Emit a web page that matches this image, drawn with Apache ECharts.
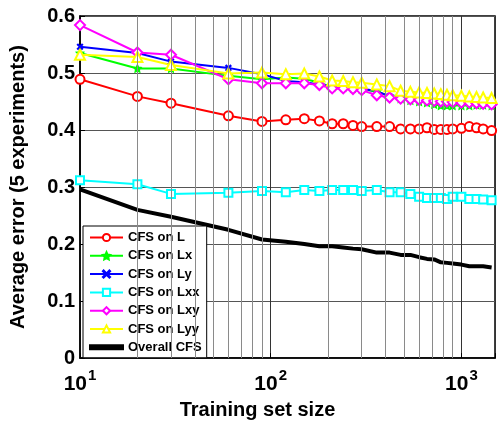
<!DOCTYPE html>
<html>
<head>
<meta charset="utf-8">
<script src="https://cdn.jsdelivr.net/npm/echarts@6/dist/echarts.min.js"></script>
<style>
  html, body { margin: 0; padding: 0; background: #fff; }
  #chart { width: 498px; height: 425px; }
</style>
</head>
<body>
<div id="chart"></div>
<script>
// training set sizes (x, log scale)
const sizes = [10, 20, 30, 60, 90, 120, 150, 180, 210, 240, 270, 300, 360, 420, 480, 540, 600, 660, 720, 780, 840, 900, 1000, 1100, 1200, 1300, 1440]

const errL   = [0.489, 0.459, 0.447, 0.425, 0.415, 0.418, 0.420, 0.416, 0.411, 0.411, 0.408, 0.406, 0.406, 0.406, 0.402, 0.402, 0.402, 0.404, 0.401, 0.401, 0.401, 0.402, 0.403, 0.406, 0.404, 0.402, 0.399]
const errLx  = [0.535, 0.508, 0.508, 0.495, 0.489, 0.492, 0.490, 0.483, 0.475, 0.475, 0.473, 0.472, 0.467, 0.460, 0.455, 0.452, 0.450, 0.448, 0.445, 0.443, 0.443, 0.443, 0.443, 0.443, 0.444, 0.444, 0.443]
const errLy  = [0.546, 0.535, 0.520, 0.509, 0.498, 0.486, 0.484, 0.480, 0.477, 0.477, 0.475, 0.473, 0.468, 0.459, 0.459, 0.454, 0.453, 0.452, 0.451, 0.450, 0.449, 0.449, 0.448, 0.448, 0.447, 0.447, 0.446]
const errLxx = [0.312, 0.305, 0.288, 0.290, 0.293, 0.291, 0.295, 0.293, 0.295, 0.295, 0.295, 0.293, 0.295, 0.291, 0.291, 0.288, 0.283, 0.281, 0.281, 0.281, 0.279, 0.283, 0.283, 0.279, 0.279, 0.278, 0.277]
const errLxy = [0.584, 0.536, 0.532, 0.489, 0.482, 0.482, 0.482, 0.479, 0.473, 0.473, 0.472, 0.470, 0.461, 0.457, 0.455, 0.454, 0.453, 0.452, 0.451, 0.450, 0.450, 0.449, 0.448, 0.448, 0.447, 0.446, 0.445]
const errLyy = [0.532, 0.528, 0.514, 0.499, 0.501, 0.498, 0.499, 0.494, 0.487, 0.486, 0.484, 0.483, 0.480, 0.477, 0.469, 0.467, 0.466, 0.465, 0.464, 0.463, 0.462, 0.461, 0.460, 0.459, 0.458, 0.457, 0.456]
const errAll = [0.296, 0.260, 0.248, 0.225, 0.208, 0.204, 0.200, 0.196, 0.196, 0.194, 0.192, 0.191, 0.185, 0.185, 0.181, 0.181, 0.177, 0.174, 0.173, 0.168, 0.167, 0.166, 0.164, 0.161, 0.161, 0.161, 0.159]

// minor grid positions of the log axis
const minorX = [20, 30, 40, 50, 60, 70, 80, 90, 200, 300, 400, 500, 600, 700, 800, 900]

const legendNames = ['CFS on L', 'CFS on Lx', 'CFS on Ly', 'CFS on Lxx', 'CFS on Lxy', 'CFS on Lyy', 'Overall CFS']

const FONT = 'Liberation Sans, Arial, sans-serif'

function pairs(ys) {
  return sizes.map((x, i) => [x, ys[i]])
}

// marker paths
const starPath = 'path://M0,-10L2.9,-4L9.5,-3.1L4.7,1.5L5.9,8.1L0,5L-5.9,8.1L-4.7,1.5L-9.5,-3.1L-2.9,-4Z'
const crossPath = 'path://M-5,-4L-4,-5L0,-1L4,-5L5,-4L1,0L5,4L4,5L0,1L-4,5L-5,4L-1,0Z'

function lineSeries(name, ys, color, symbol, size, width) {
  return {
    name: name,
    type: 'line',
    data: pairs(ys),
    symbol: symbol,
    symbolSize: size,
    showSymbol: symbol !== 'none',
    color: color,
    lineStyle: { color: color, width: width || 2 },
    itemStyle: { color: color, borderColor: color, borderWidth: 1.5 },
    animation: false,
    z: 3
  }
}

const chart = echarts.init(document.getElementById('chart'))

const options = {
  animation: false,
  grid: {
    left: 78,
    right: 1,
    top: 16,
    bottom: 63,
    show: true,
    borderColor: '#000',
    borderWidth: 1.5,
    backgroundColor: 'transparent'
  },
  legend: {
    orient: 'vertical',
    left: 83,
    top: 226,
    itemWidth: 33,
    itemHeight: 9,
    itemGap: 5.3,
    padding: [5, 5, 4, 6],
    borderColor: '#000',
    borderWidth: 1,
    backgroundColor: '#fff',
    textStyle: { fontFamily: FONT, fontWeight: 'bold', fontSize: 13, color: '#000' },
    data: legendNames.map(n => n === 'Overall CFS'
      ? { name: n, icon: 'path://M0,0H33V4H0Z', itemStyle: { color: '#000' } }
      : n)
  },
  xAxis: {
    type: 'log',
    logBase: 10,
    min: 10,
    max: 1500,
    name: 'Training set size',
    nameLocation: 'middle',
    nameGap: 33,
    nameTextStyle: { fontFamily: FONT, fontWeight: 'bold', fontSize: 20, color: '#000', padding: [0, 60, 0, 0] },
    axisLine: { show: true, lineStyle: { color: '#000', width: 1.5 } },
    axisTick: { show: true, inside: true, length: 5, lineStyle: { color: '#000' } },
    splitLine: { show: true, lineStyle: { color: '#333', width: 1 } },
    axisLabel: {
      margin: 10,
      formatter: function (v) {
        const e = Math.round(Math.log10(v))
        if (Math.abs(Math.pow(10, e) - v) > 1e-6) return ''
        return '{b|10}{s|' + e + '}'
      },
      rich: {
        b: { fontFamily: FONT, fontWeight: 'bold', fontSize: 21, color: '#000', verticalAlign: 'bottom' },
        s: { fontFamily: FONT, fontWeight: 'bold', fontSize: 15, color: '#000', verticalAlign: 'bottom', padding: [0, 0, 12, 1] }
      }
    }
  },
  yAxis: {
    type: 'value',
    min: 0,
    max: 0.6,
    interval: 0.1,
    name: 'Average error (5 experiments)',
    nameLocation: 'middle',
    nameGap: 52,
    nameTextStyle: { fontFamily: FONT, fontWeight: 'bold', fontSize: 20, color: '#000' },
    axisLine: { show: true, lineStyle: { color: '#000', width: 1.5 } },
    axisTick: { show: true, inside: true, length: 5, lineStyle: { color: '#000' } },
    splitLine: { show: true, lineStyle: { color: '#555', width: 1 } },
    axisLabel: {
      margin: 5,
      fontFamily: FONT,
      fontWeight: 'bold',
      fontSize: 20,
      color: '#000',
      formatter: function (v) { return v === 0 ? '0' : v.toFixed(1) }
    }
  },
  series: [
    {
      name: 'minor grid',
      type: 'line',
      data: [],
      silent: true,
      z: 1,
      markLine: {
        silent: true,
        symbol: 'none',
        label: { show: false },
        animation: false,
        lineStyle: { color: '#8a8a8a', width: 1, type: 'solid' },
        data: minorX.map(x => ({ xAxis: x }))
      }
    },
    lineSeries('CFS on L', errL, '#ff0000', 'emptyCircle', 9),
    lineSeries('CFS on Lx', errLx, '#00ff00', starPath, 7),
    lineSeries('CFS on Ly', errLy, '#0000ff', crossPath, 5),
    lineSeries('CFS on Lxx', errLxx, '#00ffff', 'emptyRect', 8),
    lineSeries('CFS on Lxy', errLxy, '#ff00ff', 'emptyDiamond', 10),
    lineSeries('CFS on Lyy', errLyy, '#ffff00', 'emptyTriangle', 10),
    lineSeries('Overall CFS', errAll, '#000000', 'none', 0, 4)
  ]
}

chart.setOption(options)
</script>
</body>
</html>
